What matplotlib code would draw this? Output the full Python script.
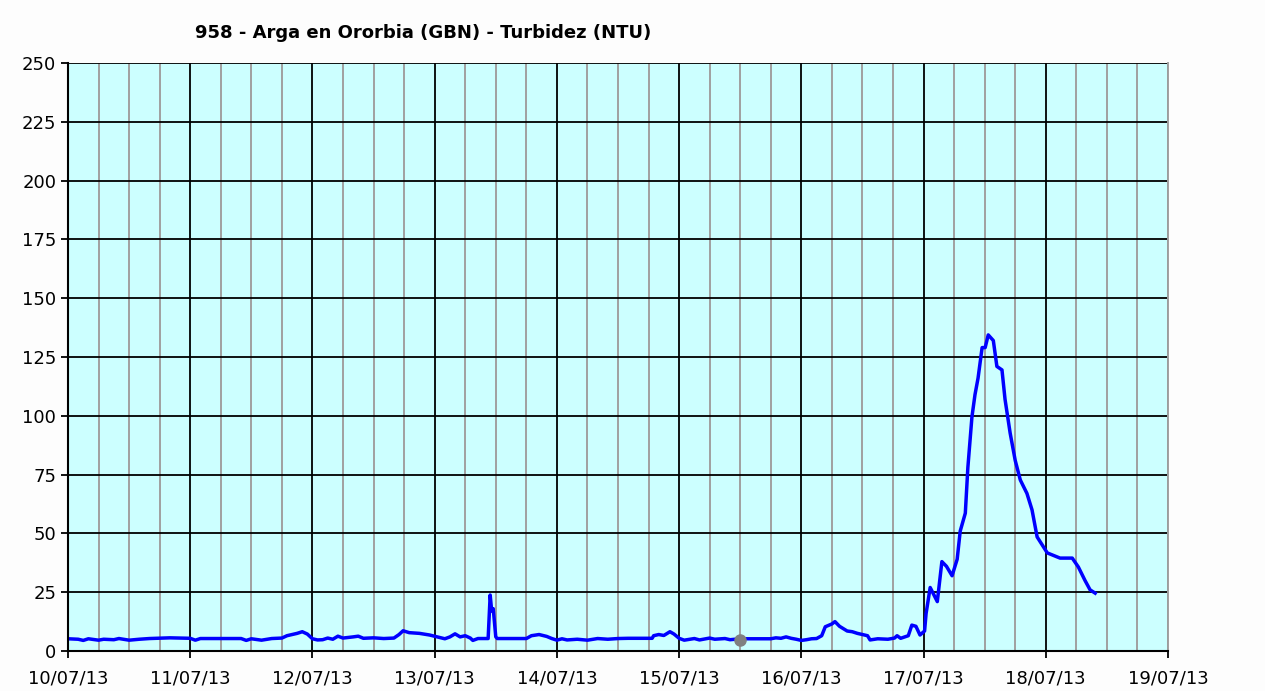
import numpy as np
import matplotlib.pyplot as plt

# hours since 10/07/13 00:00 and turbidity [NTU]
hours = [0, 2, 3, 4, 6, 7, 9, 10, 12, 14, 16, 20, 24, 25, 26, 34, 35, 36, 38, 40,
         42, 43, 44, 45, 46, 47, 48, 49, 50, 51, 52, 53, 54, 56, 57, 58, 60, 62, 64, 65,
         65.8, 67, 69, 71, 72.5, 74, 75, 76, 77, 78, 79, 79.5, 80.5, 82.5, 82.9, 83.2, 83.5, 84, 84.3, 90,
         91, 92.5, 94, 95, 96, 97, 98, 100, 102, 104, 106, 108, 110, 114.7, 115, 116, 117, 118.2, 119, 120,
         121, 123, 124, 126, 127, 129, 130, 131, 132, 133, 138, 139, 140, 141, 142, 143, 144, 145, 146, 147,
         148, 148.7, 150, 150.6, 151.5, 153, 154, 155, 157, 157.5, 159, 161, 162.3, 162.8, 163.5, 165, 165.7, 166.5, 167.3, 168.2,
         168.5, 169.3, 170, 170.7, 171.6, 172.5, 173.6, 174.6, 175.2, 176.2, 176.7, 177.5, 178.1, 178.7, 179.5, 180.1, 180.7, 181.7, 182.4, 183.4,
         184, 185, 186, 187, 188.3, 189.3, 190.3, 192.3, 194.8, 197.2, 198.4, 199.7, 200.7, 201.7]
ntu = [5.2, 5.0, 4.5, 5.2, 4.6, 5.0, 4.8, 5.3, 4.6, 5.0, 5.3, 5.6, 5.4, 4.6, 5.3, 5.3, 4.5, 5.2, 4.6, 5.3,
       5.5, 6.5, 7.0, 7.5, 8.2, 7.2, 5.2, 4.7, 4.8, 5.5, 5.0, 6.3, 5.5, 6.0, 6.3, 5.4, 5.6, 5.3, 5.5, 7.0,
       8.6, 7.8, 7.5, 6.8, 6.0, 5.2, 6.0, 7.3, 6.0, 6.5, 5.5, 4.5, 5.3, 5.3, 23.8, 17.0, 18.0, 6.0, 5.3, 5.3,
       6.5, 7.0, 6.2, 5.3, 4.6, 5.2, 4.7, 5.0, 4.6, 5.3, 5.0, 5.3, 5.4, 5.4, 6.5, 7.0, 6.6, 8.2, 7.2, 5.4,
       4.6, 5.3, 4.7, 5.5, 5.0, 5.3, 4.8, 5.0, 4.7, 5.2, 5.2, 5.6, 5.4, 6.0, 5.4, 5.0, 4.5, 4.8, 5.2, 5.3,
       6.5, 10.3, 11.5, 12.5, 10.5, 8.5, 8.2, 7.5, 6.5, 4.7, 5.2, 5.0, 5.5, 6.5, 5.4, 6.5, 11.0, 10.5, 6.8, 8.5,
       16, 27, 24, 21, 38, 36, 32, 39, 51, 58.6, 78, 99.5, 109, 116, 129, 129, 134.4, 132, 121, 119.5,
       107, 92.7, 81, 72.7, 67, 60, 48.5, 41.7, 39.5, 39.5, 35.7, 30, 26, 24.6]

# gray marker
mark_h = 132
mark_v = 4.7

day_labels = ['10/07/13', '11/07/13', '12/07/13', '13/07/13', '14/07/13',
              '15/07/13', '16/07/13', '17/07/13', '18/07/13', '19/07/13']

fig = plt.figure(figsize=(12.65, 6.91), dpi=100, facecolor='#fdfdfd')
ax = fig.add_axes([68/1265, 40/691, 1100/1265, 588/691])
ax.set_facecolor('#ccffff')

ax.set_xlim(0, 216)
ax.set_ylim(0, 250)

ax.set_xticks(np.arange(0, 217, 24))
ax.set_xticklabels(day_labels)
ax.set_xticks(np.arange(0, 217, 6), minor=True)
ax.set_yticks(np.arange(0, 251, 25))

ax.grid(True, which='minor', axis='x', color='#a0a0a0', lw=1.4)
ax.grid(True, which='major', axis='x', color='black', lw=1.3)
ax.grid(True, which='major', axis='y', color='black', lw=1.3)
ax.set_axisbelow(True)

ax.plot(hours, ntu, color='#0000ff', lw=2.5)
ax.plot([mark_h], [mark_v], 'o', color='#808080', ms=8)

for s in ['left', 'bottom']:
    ax.spines[s].set_linewidth(1.5)
ax.spines['top'].set_visible(False)
ax.spines['right'].set_color('#a0a0a0')
ax.spines['right'].set_linewidth(1.4)

ax.tick_params(axis='both', which='major', length=5, width=1.3, labelsize=13, colors='black')
ax.tick_params(axis='x', which='minor', length=0)
ax.tick_params(axis='x', pad=8)

fig.text(423/1265, 1 - 33/691, '958 - Arga en Ororbia (GBN) - Turbidez (NTU)',
         ha='center', va='center', fontsize=13, fontweight='bold')

plt.savefig('out.png', dpi=100, facecolor=fig.get_facecolor())
